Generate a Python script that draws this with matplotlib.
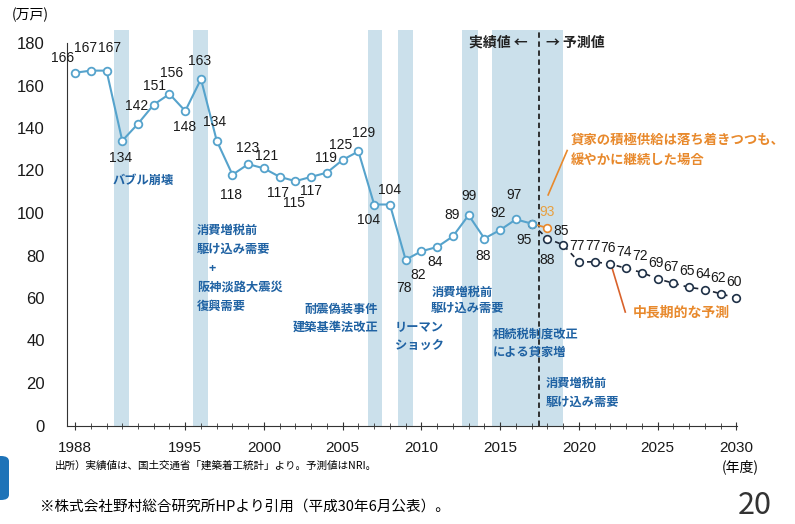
import matplotlib
matplotlib.use("Agg")
import matplotlib.pyplot as plt
from matplotlib.patches import FancyBboxPatch
from matplotlib.ticker import MultipleLocator

plt.rcParams["font.family"] = ["Noto Sans CJK JP", "DejaVu Sans"]
NUM_FONT = ["Liberation Sans", "Noto Sans CJK JP"]

# actual housing starts (10k units)
actual_years = list(range(1988, 2018))
actual_values = [166, 167, 167, 134, 142, 151, 156, 148, 163, 134, 118, 123, 121, 117, 115,
                 117, 119, 125, 129, 104, 104, 78, 82, 84, 89, 99, 88, 92, 97, 95]
# NRI forecast
forecast_years = list(range(2017, 2031))
forecast_values = [95, 88, 85, 77, 77, 76, 74, 72, 69, 67, 65, 64, 62, 60]
# scenario: rental supply continues moderately
scenario_years = [2017, 2018]
scenario_values = [95, 93]
# shaded event periods (fiscal years)
event_spans = [(1990.5, 1991.4), (1995.5, 1996.45), (2006.6, 2007.5), (2008.5, 2009.45),
               (2012.6, 2013.6), (2014.5, 2019.0)]
event_labels = [
    ("バブル崩壊", 1990.41, 115.5, "left"),
    ("消費増税前", 1995.75, 92.0, "left"),
    ("駆け込み需要", 1995.75, 83.1, "left"),
    ("+", 1996.7, 74.1, "center"),
    ("阪神淡路大震災", 1995.75, 65.2, "left"),
    ("復興需要", 1995.75, 56.2, "left"),
    ("耐震偽装事件", 2007.25, 54.4, "right"),
    ("建築基準法改正", 2007.25, 46.4, "right"),
    ("リーマン", 2008.33, 45.9, "left"),
    ("ショック", 2008.33, 37.9, "left"),
    ("消費増税前", 2010.62, 62.8, "left"),
    ("駆け込み需要", 2010.62, 55.3, "left"),
    ("相続税制度改正", 2014.56, 43.1, "left"),
    ("による貸家増", 2014.56, 34.6, "left"),
    ("消費増税前", 2017.92, 20.0, "left"),
    ("駆け込み需要", 2017.92, 11.1, "left"),
]
x_tick_years = [1988, 1995, 2000, 2005, 2010, 2015, 2020, 2025, 2030]

# label offsets in pixels (layout only)
actual_offsets = [(-12, 15), (-5, 23), (3, 23), (-2, -17), (-1, 18), (1, 19), (2, 21), (-1, -16),
                  (-1, 18), (-2, 19), (-1, -20), (-1, 16), (3, 12), (-2, -16), (-1, -22),
                  (0, -14), (-1, 15), (-2, 15), (5, 18), (-6, -15), (0, 14), (-2, -28),
                  (-3, -24), (-2, -15), (-1, 21), (0, 19), (-1, -18), (-2, 17), (-2, 24),
                  (-8, -16)]
forecast_offsets = [None, (0, -22), (-2, 14)] + [(-2, 16)] * 11

BLUE_LINE = "#56a3cc"
BLUE_TEXT = "#1f62a3"
ORANGE = "#e8892c"
BAND = "#cbe0eb"

fig = plt.figure(figsize=(7.95, 5.24), dpi=100)
ax = fig.add_axes([67 / 795, 98.5 / 524, 674 / 795, 403.75 / 524])
ax.set_xlim(1987.49, 2030.3)
ax.set_ylim(0, 190)

for x0, x1 in event_spans:
    ax.axvspan(x0, x1, ymin=0, ymax=186 / 190, color=BAND, lw=0, zorder=0)
ax.plot([2017.5, 2017.5], [0, 186], color="#222222", lw=1.3, ls=(0, (3, 2)), zorder=1)

ax.plot(forecast_years, forecast_values, color="#1c2433", lw=1.2, ls=(0, (3, 3)),
        marker="o", ms=5.5, mfc="white", mec="#1f3147", mew=1.2, zorder=3)
ax.plot(scenario_years, scenario_values, color=ORANGE, lw=1.3,
        marker="o", ms=5.5, mfc="white", mec=ORANGE, mew=1.2, markevery=[1], zorder=4)
ax.plot(actual_years, actual_values, color=BLUE_LINE, lw=1.5,
        marker="o", ms=5.5, mfc="white", mec=BLUE_LINE, mew=1.3, zorder=5)

for x, y, off in zip(actual_years, actual_values, actual_offsets):
    ax.annotate(str(y), (x, y), xytext=off, textcoords="offset pixels", ha="center",
                va="center", fontsize=10, family=NUM_FONT, color="#1a1a1a", zorder=6)
for x, y, off in zip(forecast_years, forecast_values, forecast_offsets):
    if off is None:
        continue
    ax.annotate(str(y), (x, y), xytext=off, textcoords="offset pixels", ha="center",
                va="center", fontsize=10, family=NUM_FONT, color="#1a1a1a", zorder=6)
ax.annotate(str(scenario_values[1]), (scenario_years[1], scenario_values[1]), xytext=(0, 16),
            textcoords="offset pixels", ha="center", va="center", fontsize=10,
            family=NUM_FONT, color="#e8a040", zorder=6)

for text, x, y, ha in event_labels:
    ax.text(x, y, text, ha=ha, va="center", fontsize=8.8, fontweight="bold", color=BLUE_TEXT,
            zorder=6)

ax.text(2016.75, 180.0, "実績値 ←", ha="right", va="center", fontsize=10, fontweight="bold",
        color="#222222")
ax.text(2017.92, 180.0, "→ 予測値", ha="left", va="center", fontsize=10, fontweight="bold",
        color="#222222")

ax.plot([2018.05, 2019.26], [108.5, 129.4], color=ORANGE, lw=1.2)
ax.text(2019.51, 134.4, "貸家の積極供給は落ち着きつつも、", ha="left", va="center", fontsize=9.6,
        fontweight="bold", color=ORANGE)
ax.text(2019.51, 124.9, "緩やかに継続した場合", ha="left", va="center", fontsize=9.6,
        fontweight="bold", color=ORANGE)
ax.plot([2022.0, 2022.95], [76.9, 53.4], color="#d9622b", lw=1.2)
ax.text(2023.45, 52.9, "中長期的な予測", ha="left", va="center", fontsize=10,
        fontweight="bold", color=ORANGE)

for side in ("top", "right"):
    ax.spines[side].set_visible(False)
ax.spines["left"].set_bounds(0, 180)
ax.spines["bottom"].set_bounds(1987.49, 2030.05)
ax.spines["left"].set_color("#333333")
ax.spines["bottom"].set_color("#333333")
ax.set_yticks(range(0, 181, 20))
ax.set_xticks(x_tick_years)
ax.xaxis.set_minor_locator(MultipleLocator(1))
ax.tick_params(axis="y", length=0, pad=16, labelsize=12, labelcolor="#1a1a1a")
ax.tick_params(axis="x", which="major", direction="inout", length=6, pad=8, labelsize=11,
               labelcolor="#1a1a1a", color="#333333")
ax.tick_params(axis="x", which="minor", direction="inout", length=4, color="#333333")
for lab in ax.get_xticklabels() + ax.get_yticklabels():
    lab.set_family(NUM_FONT)

fig.text(30 / 795, 1 - 15 / 524, "(万戸)", ha="center", va="center", fontsize=10)
fig.text(740 / 795, 1 - 467 / 524, "(年度)", ha="center", va="center", fontsize=10)
fig.text(55 / 795, 1 - 466 / 524, "出所）実績値は、国土交通省「建築着工統計」より。予測値はNRI。",
         ha="left", va="center", fontsize=7.6)
fig.text(40 / 795, 1 - 508 / 524, "※株式会社野村総合研究所HPより引用（平成30年6月公表）。",
         ha="left", va="center", fontsize=10.5)
fig.text(755 / 795, 1 - 521 / 524, "20", ha="center", va="bottom", fontsize=22,
         color="#333333")
fig.patches.append(FancyBboxPatch((-8 / 795, 1 - 500 / 524), 17 / 795, 44 / 524,
                                  boxstyle="round,pad=0,rounding_size=0.01",
                                  transform=fig.transFigure, color="#1e73b8", lw=0))

fig.savefig("out.png", dpi=100)
